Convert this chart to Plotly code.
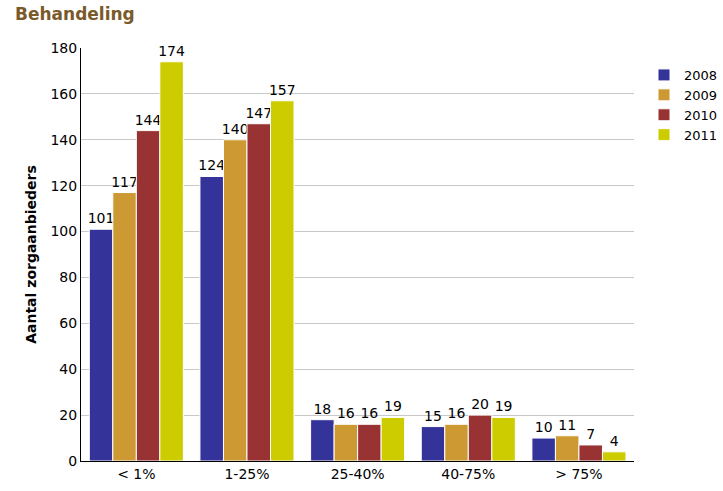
import plotly.graph_objects as go

categories = ["< 1%", "1-25%", "25-40%", "40-75%", "> 75%"]
years = ["2008", "2009", "2010", "2011"]
v2008 = [101, 124, 18, 15, 10]
v2009 = [117, 140, 16, 16, 11]
v2010 = [144, 147, 16, 20, 7]
v2011 = [174, 157, 19, 19, 4]
series = [v2008, v2009, v2010, v2011]
colors = ["#333399", "#CC9933", "#993333", "#CCCC00"]

font_family = "DejaVu Sans, Verdana, sans-serif"

fig = go.Figure()
for name, vals, c in zip(years, series, colors):
    fig.add_trace(go.Bar(
        x=categories, y=vals, name=name,
        marker=dict(color=c, line=dict(color="white", width=1)),
        text=[str(v) for v in vals], textposition="outside",
        textfont=dict(size=14, color="black", family=font_family),
        cliponaxis=False,
    ))

W, H = 723, 491
ml, mr, mt, mb = 81, 0, 48, 30
plot_right = 636
pw = W - ml - mr
ph = H - mt - mb
dom_end = (plot_right - ml) / pw
leg_x = (646 - ml) / pw
leg_y = (H - mb - 60) / ph

fig.update_layout(
    width=W, height=H,
    barmode="group", bargap=0.15, bargroupgap=0,
    plot_bgcolor="white", paper_bgcolor="white",
    margin=dict(l=ml, r=mr, t=mt, b=mb),
    font=dict(family=font_family, size=14, color="black"),
    uniformtext=dict(minsize=14, mode="show"),
    title=dict(text="<b>Behandeling</b>", x=15 / W, xanchor="left", y=1 - 14 / H, yanchor="middle",
               font=dict(size=17, color="#7A5A2A", family=font_family)),
    legend=dict(x=leg_x, y=leg_y, xanchor="left", yanchor="top",
                font=dict(size=13, family=font_family), tracegroupgap=0,
                bgcolor="rgba(0,0,0,0)"),
    showlegend=True,
)
fig.update_yaxes(range=[0, 180], dtick=20, showgrid=True, gridcolor="#C8C8C8", gridwidth=1,
                 showline=True, linecolor="black", linewidth=1, ticks="",
                 zeroline=False,
                 title=dict(text="<b>Aantal zorgaanbieders</b>", font=dict(size=14), standoff=10),
                 tickfont=dict(size=14))
fig.update_xaxes(domain=[0, dom_end], showline=True, linecolor="black", linewidth=1,
                 tickfont=dict(size=14), ticks="")

fig.write_html("out.html", config={"displayModeBar": False},
               post_script="document.body.style.margin='0';")
